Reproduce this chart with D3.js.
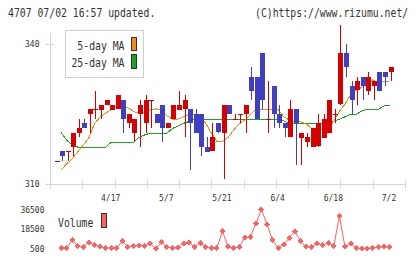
<!DOCTYPE html>
<html>
<head>
<meta charset="utf-8">
<script src="https://cdn.jsdelivr.net/npm/d3@7"></script>
<style>
body { margin: 0; background: #fff; }
text { font-family: "DejaVu Sans Mono", monospace; fill: #333; }
</style>
</head>
<body>
<script>
// daily candles, 61 trading days (last = 7/2)
var open  = [315,317,317,318,321,323,325,326,326,327,326,326,328,323,321,325,323,328,325,327,
             322,324,326,326,326,325,325,318,317,323,321,327,324,325,325,333,333,338,324,331,
             325,323,320,326,320,319,318,318,320,321,325,327,338,331,330,333,330,331,334,334,334];
var high  = [315,317,317,321,324,324,326,330,327,328,327,329,328,325,324,328,329,328,325,327,
             323,327,330,329,326,326,325,320,323,323,327,327,325,325,327,335,333,338,332,331,
             327,323,328,326,321,321,322,325,325,328,326,344,340,332,333,333,334,332,334,334,335];
var low   = [315,315,315,316,320,322,321,324,324,327,326,326,321,322,319,318,321,322,323,319,
             322,324,326,320,313,321,316,317,317,321,311,325,324,323,321,328,324,326,321,322,
             322,320,320,314,314,318,318,318,320,321,323,327,333,325,327,328,329,328,330,331,332];
var close = [315,316,317,321,322,322,326,326,327,328,327,329,324,325,324,327,328,328,323,322,
             323,327,327,328,323,321,318,317,320,321,327,325,324,325,327,330,324,328,324,325,
             323,322,326,323,321,320,322,323,324,328,325,338,335,328,332,331,333,332,330,333,335];

// moving averages and volume, from day 2 on
var ma5 = [313.0,314.3,315.4,316.9,318.4,319.9,322.9,324.4,325.2,325.9,
           326.7,326.9,326.3,325.6,325.1,325.4,325.9,326.1,325.9,324.6,
           323.9,323.9,324.4,324.9,324.9,324.4,323.0,320.9,319.1,319.1,
           320.0,321.6,322.9,323.7,324.8,326.0,326.0,326.0,326.0,326.0,
           324.4,323.7,323.4,323.3,322.9,321.9,321.9,321.7,321.7,323.5,
           325.6,327.1,329.1,330.1,330.7,331.9,332.3,331.8,331.9,332.1];
var ma25 = [321.0,319.4,318.4,317.9,317.9,317.9,317.9,317.9,317.9,318.9,
            318.9,318.9,318.9,318.9,320.0,320.5,320.9,320.9,320.9,320.9,
            321.9,322.4,323.0,323.4,323.9,323.9,323.9,323.9,323.9,323.9,
            323.9,323.9,323.9,323.9,323.9,323.9,323.9,323.9,323.9,323.9,
            323.5,323.0,323.0,323.0,323.0,323.0,323.0,323.0,323.0,323.5,
            323.9,324.4,324.9,324.9,325.6,326.0,326.0,326.0,326.7,326.9];
var volume = [1000,1000,8200,2900,2000,6300,3600,2000,1000,1000,
              1000,7200,2000,2900,3600,2900,5100,500,6300,2000,
              700,1000,5100,5700,2000,5700,2000,1000,1000,16500,
              2000,1000,2000,10600,11200,23600,36500,22700,8200,1000,
              4200,10300,16500,7200,2000,2000,5100,3600,5700,2900,
              30600,2000,5100,1000,500,500,1000,2000,2000,2000];

var dateLabels = ["4/17","5/7","5/21","6/4","6/18","7/2"];
var dateIndex  = [10,20,30,40,50,60];
var priceTicks = [310,340];
var volTicks = [500,18500,36500];

var svg = d3.select("body").append("svg").attr("width",420).attr("height",259);

var x  = d3.scaleLinear().domain([0,60]).range([56.5,390.5]);
var y  = d3.scaleLinear().domain([310,340]).range([184,44]);
var yv = d3.scaleLinear().domain([500,36500]).range([248.5,209.5]);
var xt = d3.scaleLinear().domain([0,11]).range([50,405]);

var axisCol = "#d6d6d6";
var up = "#d70000", down = "#3f3fbf";
var sx = 0.817; // narrow glyphs like the original bitmap font

// header
svg.append("text").attr("transform","translate(8,17) scale("+sx+",1)").attr("font-size",12)
    .text("4707 07/02 16:57 updated.");
svg.append("text").attr("transform","translate(255,17) scale("+sx+",1)").attr("font-size",12)
    .text("(C)https://www.rizumu.net/");

// axes
var ax = svg.append("g").attr("stroke",axisCol).attr("shape-rendering","crispEdges");
ax.append("line").attr("x1",50.5).attr("x2",50.5).attr("y1",33).attr("y2",189);
ax.append("line").attr("x1",45).attr("x2",405).attr("y1",Math.round(y(310))+0.5).attr("y2",Math.round(y(310))+0.5);
ax.selectAll("line.tx").data(d3.range(12)).enter().append("line").attr("class","tx")
    .attr("x1",function(d){return Math.round(xt(d))+0.5;})
    .attr("x2",function(d){return Math.round(xt(d))+0.5;})
    .attr("y1",180).attr("y2",189);
ax.selectAll("line.ty").data(priceTicks).enter().append("line").attr("class","ty")
    .attr("x1",45).attr("x2",54)
    .attr("y1",function(d){return Math.round(y(d))+0.5;})
    .attr("y2",function(d){return Math.round(y(d))+0.5;});

svg.selectAll("text.py").data(priceTicks).enter().append("text").attr("class","py")
    .attr("x",39.5).attr("y",function(d){return y(d)+3;})
    .attr("text-anchor","end").attr("font-size",8).text(function(d){return d;});

svg.selectAll("text.dx").data(dateLabels).enter().append("text").attr("class","dx")
    .attr("x",function(d,i){return x(dateIndex[i])-1.5;}).attr("y",201)
    .attr("text-anchor","middle").attr("font-size",8).text(function(d){return d;});

// moving averages
var ln = function(arr){
    return d3.line().x(function(d,k){return x(k+1)-1;}).y(function(d){return y(d);})(arr);
};
svg.append("path").attr("d",ln(ma25)).attr("fill","none").attr("stroke","#1ea51e")
    .attr("stroke-width",1).attr("shape-rendering","crispEdges");
svg.append("path").attr("d",ln(ma5)).attr("fill","none").attr("stroke","#f28b1c")
    .attr("stroke-width",1).attr("shape-rendering","crispEdges");

// candles
var days = d3.range(open.length);
var cg = svg.append("g").attr("shape-rendering","crispEdges");
var colr = function(i){ return close[i] >= open[i] ? up : down; };
cg.selectAll("line.wick").data(days).enter().append("line").attr("class","wick")
    .attr("x1",function(i){return Math.round(x(i))+0.5;})
    .attr("x2",function(i){return Math.round(x(i))+0.5;})
    .attr("y1",function(i){return y(high[i]);})
    .attr("y2",function(i){return y(low[i]);})
    .attr("stroke",colr);
cg.selectAll("rect.body").data(days).enter().append("rect").attr("class","body")
    .attr("x",function(i){return Math.round(x(i))-2;})
    .attr("width",5)
    .attr("y",function(i){return Math.round(y(Math.max(open[i],close[i])));})
    .attr("height",function(i){return Math.max(1,Math.round(Math.abs(y(open[i])-y(close[i]))));})
    .attr("fill",colr);

// legend
var lg = svg.append("g");
lg.append("rect").attr("x",65.5).attr("y",30.5).attr("width",78).attr("height",47)
    .attr("fill","#fff").attr("stroke","#cfcfcf");
lg.append("text").attr("transform","translate(124.5,50) scale("+sx+",1)")
    .attr("text-anchor","end").attr("font-size",12).text("5-day MA");
lg.append("text").attr("transform","translate(124.5,66.5) scale("+sx+",1)")
    .attr("text-anchor","end").attr("font-size",12).text("25-day MA");
lg.append("rect").attr("x",131.5).attr("y",37.5).attr("width",5).attr("height",13)
    .attr("fill","#f28b1c").attr("stroke","#333");
lg.append("rect").attr("x",131.5).attr("y",54.5).attr("width",5).attr("height",14)
    .attr("fill","#1ea51e").attr("stroke","#333");

// volume
svg.selectAll("text.vy").data(volTicks).enter().append("text").attr("class","vy")
    .attr("x",44.5).attr("y",function(d){return yv(d)+3;})
    .attr("text-anchor","end").attr("font-size",8).text(function(d){return d;});
svg.append("text").attr("transform","translate(58,226.5) scale("+sx+",1)").attr("font-size",12)
    .text("Volume");
svg.append("rect").attr("x",101.5).attr("y",213.5).attr("width",5).attr("height",14)
    .attr("fill","#ff6060").attr("stroke","#333");

var vx = function(d,k){ return x(k+1)-1; };
svg.append("path")
    .attr("d",d3.line().x(vx).y(function(d){return yv(d);})(volume))
    .attr("fill","none").attr("stroke","#ff6060").attr("stroke-width",1);
svg.selectAll("path.vm").data(volume).enter().append("path").attr("class","vm")
    .attr("d","M0,-3L3,0L0,3L-3,0Z")
    .attr("transform",function(d,k){return "translate("+vx(d,k)+","+yv(d)+")";})
    .attr("fill","#ff6060").attr("shape-rendering","crispEdges");
</script>
</body>
</html>
